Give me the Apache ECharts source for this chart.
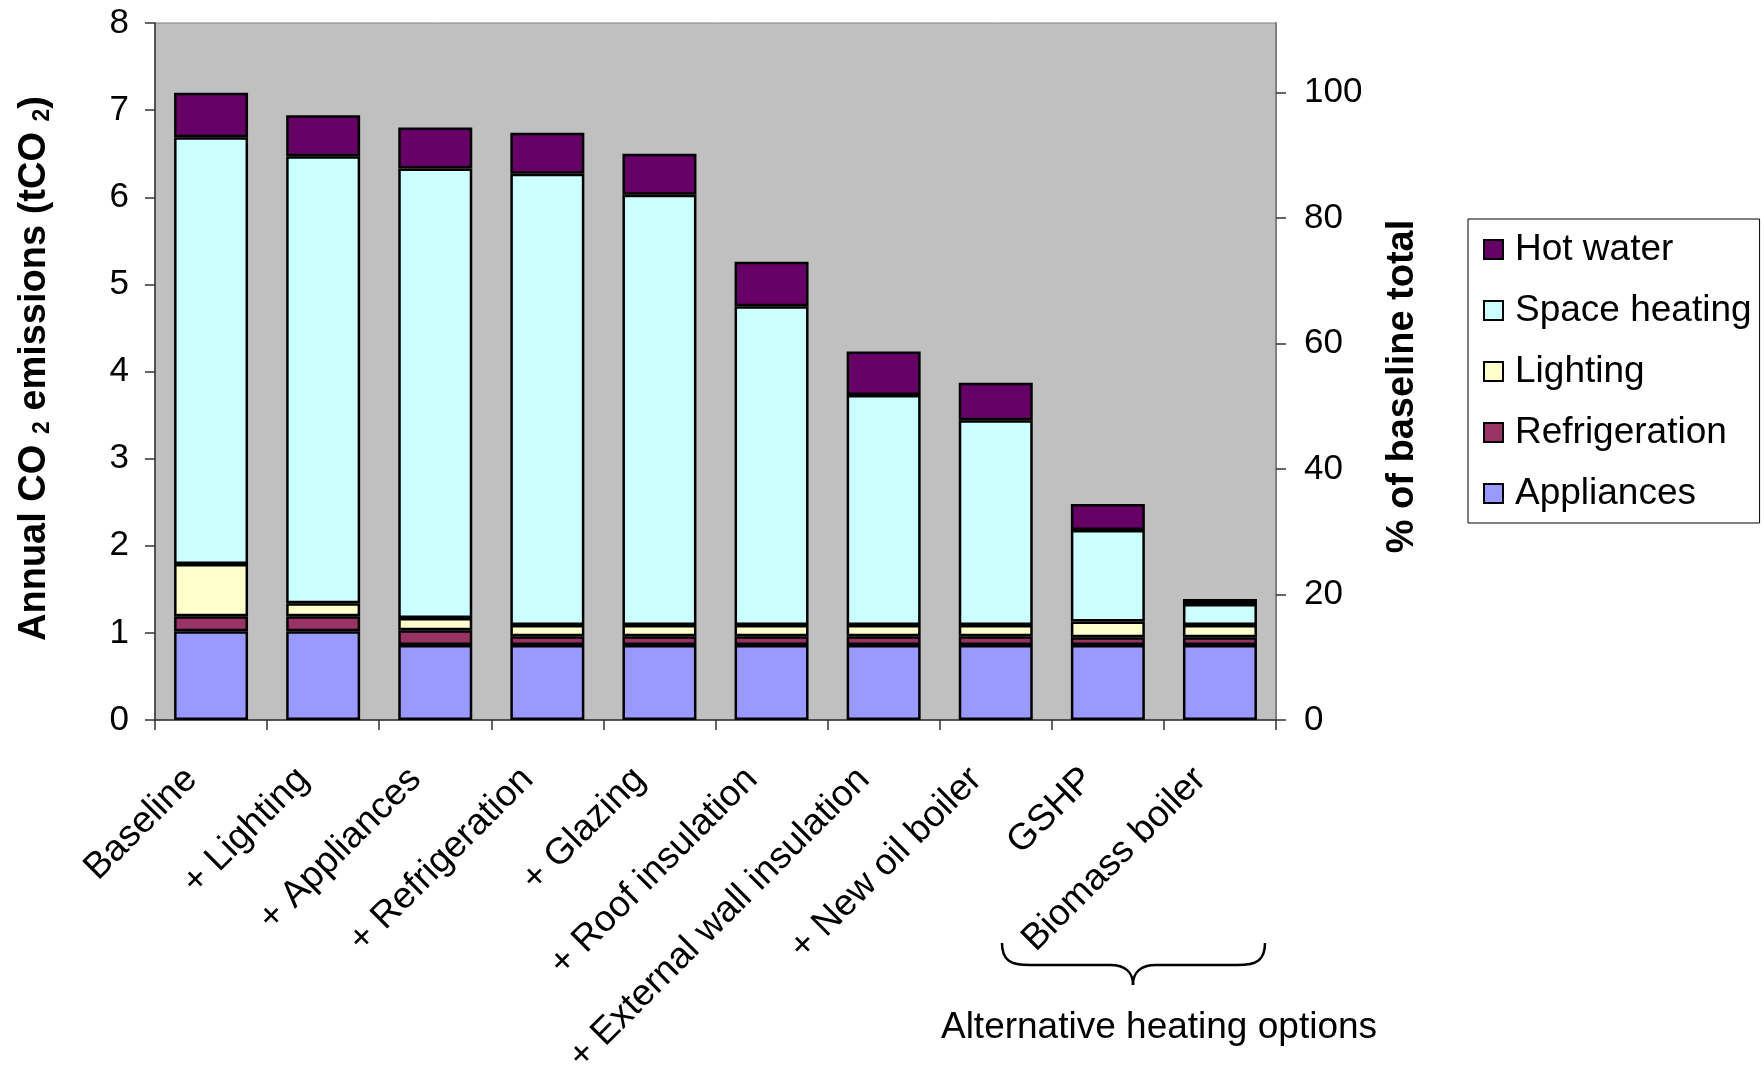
<!DOCTYPE html>
<html>
<head>
<meta charset="utf-8">
<script src="https://cdn.jsdelivr.net/npm/echarts@6/dist/echarts.min.js"></script>
<style>
html,body{margin:0;padding:0;background:#fff;}
#chart{width:1764px;height:1082px;}
</style>
</head>
<body>
<div id="chart"></div>
<script>
var categories = ["Baseline", "+ Lighting", "+ Appliances", "+ Refrigeration", "+ Glazing", "+ Roof insulation", "+ External wall insulation", "+ New oil boiler", "GSHP", "Biomass boiler"];
var appliances    = [1.02, 1.02, 0.86, 0.86, 0.86, 0.86, 0.86, 0.86, 0.86, 0.86];
var refrigeration = [0.17, 0.17, 0.17, 0.10, 0.10, 0.10, 0.10, 0.10, 0.09, 0.09];
var lighting      = [0.60, 0.15, 0.14, 0.13, 0.13, 0.13, 0.13, 0.13, 0.18, 0.14];
var spaceHeating  = [4.90, 5.13, 5.16, 5.18, 4.94, 3.66, 2.64, 2.35, 1.05, 0.24];
var hotWater      = [0.51, 0.47, 0.47, 0.47, 0.47, 0.51, 0.50, 0.43, 0.30, 0.06];
var leftTicks = { min: 0, max: 8, interval: 1 };
var rightTicks = { min: 0, interval: 20, lastLabel: 100 };
var groupLabel = "Alternative heating options";

var baselineTotal = appliances[0] + refrigeration[0] + lighting[0] + spaceHeating[0] + hotWater[0];
var rightMax = leftTicks.max / baselineTotal * 100;

var FONT = '"Liberation Sans", Arial, sans-serif';
var chart = echarts.init(document.getElementById('chart'), null, {renderer: 'canvas'});

function mk(name, data, color) {
  return {
    name: name, type: 'bar', stack: 'total', data: data, barWidth: '66%',
    itemStyle: { color: color, borderColor: '#000', borderWidth: 2.5 },
    emphasis: { disabled: true }
  };
}
var braceStyle = { fill: null, stroke: '#000', lineWidth: 2.5 };
function bez(x1, y1, c1x, c1y, c2x, c2y, x2, y2) {
  return { type: 'bezierCurve', shape: { x1: x1, y1: y1, cpx1: c1x, cpy1: c1y, cpx2: c2x, cpy2: c2y, x2: x2, y2: y2 }, style: braceStyle, silent: true };
}
function seg(x1, y1, x2, y2) {
  return { type: 'line', shape: { x1: x1, y1: y1, x2: x2, y2: y2 }, style: braceStyle, silent: true };
}

chart.setOption({
  animation: false,
  backgroundColor: '#ffffff',
  textStyle: { fontFamily: FONT },
  grid: { left: 155, top: 23, width: 1121, height: 697, show: true, backgroundColor: '#C0C0C0', borderColor: '#808080', borderWidth: 1 },
  legend: {
    orient: 'vertical', left: 1468, top: 219,
    data: ['Hot water', 'Space heating', 'Lighting', 'Refrigeration', 'Appliances'],
    icon: 'rect', itemWidth: 19, itemHeight: 19, itemGap: 24,
    padding: [12, 8, 11, 15],
    borderColor: '#000', borderWidth: 1, backgroundColor: '#fff',
    textStyle: { fontFamily: FONT, fontSize: 37, color: '#000', padding: [0, 0, 0, 7] },
    itemStyle: { borderColor: '#000', borderWidth: 2 },
    selectedMode: false
  },
  xAxis: {
    type: 'category', data: categories,
    axisLine: { lineStyle: { color: '#333', width: 1.5 } },
    axisTick: { show: true, length: 10, lineStyle: { color: '#333', width: 1.5 } },
    axisLabel: { rotate: 45, fontSize: 37, color: '#000', fontFamily: FONT, margin: 34, interval: 0, padding: [0, 28, 0, 0] },
    splitLine: { show: false }
  },
  yAxis: [{
    type: 'value', min: leftTicks.min, max: leftTicks.max, interval: leftTicks.interval, position: 'left',
    axisLine: { show: true, lineStyle: { color: '#333', width: 1.5 } },
    axisTick: { show: true, length: 10, lineStyle: { color: '#333', width: 1.5 } },
    axisLabel: { fontSize: 35, color: '#000', fontFamily: FONT, margin: 26 },
    splitLine: { show: false },
    name: '{t|Annual CO }{s|2}{t| emissions (tCO }{s|2}{t|)}',
    nameLocation: 'middle', nameRotate: 90, nameGap: 101,
    nameTextStyle: {
      padding: [0, 0, 0, 6],
      rich: {
        t: { fontSize: 38, fontWeight: 'bold', color: '#000', fontFamily: FONT },
        s: { fontSize: 23, fontWeight: 'bold', color: '#000', fontFamily: FONT, verticalAlign: 'bottom', padding: [15, 0, 0, 0] }
      }
    }
  }, {
    type: 'value', min: rightTicks.min, max: rightMax, interval: rightTicks.interval, position: 'right',
    axisLine: { show: true, lineStyle: { color: '#808080', width: 2 } },
    axisTick: { show: true, length: 10, lineStyle: { color: '#333', width: 1.5 } },
    axisLabel: { fontSize: 35, color: '#000', fontFamily: FONT, margin: 28, showMaxLabel: false,
      formatter: function (v) { return v <= rightTicks.lastLabel ? String(Math.round(v)) : ''; } },
    splitLine: { show: false },
    name: '% of baseline total',
    nameLocation: 'middle', nameRotate: 90, nameGap: 108,
    nameTextStyle: { fontSize: 38, fontWeight: 'bold', color: '#000', fontFamily: FONT, padding: [0, 30, 0, 0] }
  }],
  series: [
    mk('Appliances', appliances, '#9999FF'),
    mk('Refrigeration', refrigeration, '#993366'),
    mk('Lighting', lighting, '#FFFFCC'),
    mk('Space heating', spaceHeating, '#CCFFFF'),
    mk('Hot water', hotWater, '#660066')
  ],
  graphic: [
    bez(1002, 943, 1002, 960, 1010, 965, 1030, 965),
    seg(1030, 965, 1110, 965),
    bez(1110, 965, 1125, 965, 1133, 972, 1133, 985),
    bez(1133, 985, 1133, 972, 1141, 965, 1156, 965),
    seg(1156, 965, 1237, 965),
    bez(1237, 965, 1257, 965, 1265, 960, 1265, 943),
    {
      type: 'text', x: 1159, y: 1028, silent: true,
      style: { text: groupLabel, align: 'center', verticalAlign: 'middle', fontSize: 37, fontFamily: FONT, fill: '#000' }
    }
  ]
});
</script>
</body>
</html>
